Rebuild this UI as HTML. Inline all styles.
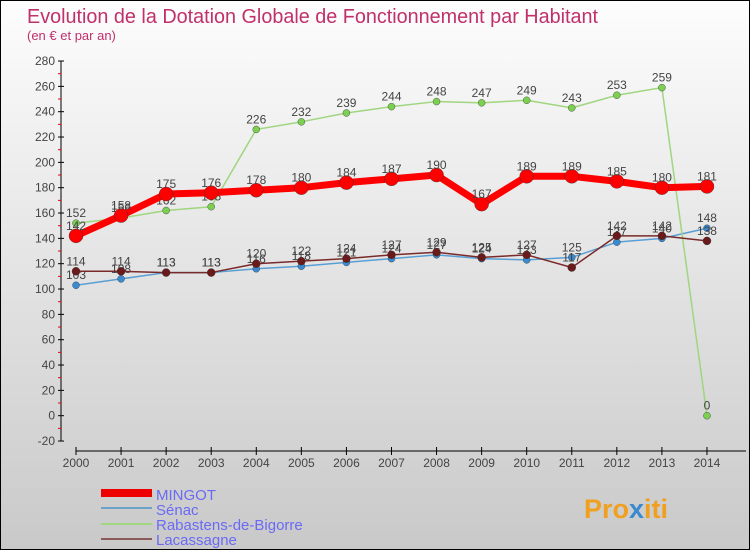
<!DOCTYPE html><html><head><meta charset="utf-8"><style>
body{margin:0}
#c{width:750px;height:550px;position:relative;box-sizing:border-box;border:1px solid #000;background:linear-gradient(#fdfdfd,#c9c9c9);font-family:"Liberation Sans",sans-serif;overflow:hidden}
</style></head><body>
<div id="c">
<svg id="s" width="750" height="550" style="position:absolute;left:0;top:0" font-family="Liberation Sans, sans-serif">
<text x="26" y="22" font-size="20" fill="#c0306a" textLength="571" lengthAdjust="spacingAndGlyphs" style="font-weight:300">Evolution de la Dotation Globale de Fonctionnement par Habitant</text>
<text x="26" y="39" font-size="13" fill="#c0306a">(en € et par an)</text>
<g id="axes"></g><g id="series"></g>
<g>
<rect x="100" y="488" width="51" height="8" fill="#e00"/>
<text x="155" y="499" font-size="15" fill="#6a6af5">MINGOT</text>
<rect x="100" y="506" width="51" height="2" fill="#6ba3c8"/>
<text x="155" y="514" font-size="15" fill="#6a6af5">Sénac</text>
<rect x="100" y="522" width="51" height="2" fill="#9fd67f"/>
<text x="155" y="529" font-size="15" fill="#6a6af5">Rabastens-de-Bigorre</text>
<rect x="100" y="537" width="51" height="2" fill="#8b5a5a"/>
<text x="155" y="544" font-size="15" fill="#6a6af5">Lacassagne</text>
</g>
<text x="583" y="517" font-size="27" font-weight="bold" fill="#f0a020">Pro<tspan fill="#3a8ad0">x</tspan>iti</text>
</svg>
</div>
<script>
const years=[2000,2001,2002,2003,2004,2005,2006,2007,2008,2009,2010,2011,2012,2013,2014];
const yTicks=[-20,0,20,40,60,80,100,120,140,160,180,200,220,240,260,280];
const mingot=[142,158,175,176,178,180,184,187,190,167,189,189,185,180,181];
const senac=[103,108,113,113,116,118,121,124,127,124,123,125,137,140,148];
const rabastens=[152,156,162,165,226,232,239,244,248,247,249,243,253,259,0];
const lacassagne=[114,114,113,113,120,122,124,127,129,125,127,117,142,142,138];
const NS="http://www.w3.org/2000/svg";
const X=i=>75+i*45.07, Y=v=>414.7-v*1.2667;
function mk(tag,at,parent){const e=document.createElementNS(NS,tag);for(const k in at)e.setAttribute(k,at[k]);parent.appendChild(e);return e;}
const ax=document.getElementById('axes'), sg=document.getElementById('series');
const yl=mk('line',{x1:60,y1:Y(280),x2:60,y2:Y(-20),stroke:'#000'},ax);


yTicks.forEach((t,k)=>{
 mk('line',{x1:57,x2:63,y1:Y(t),y2:Y(t),stroke:'#000'},ax);
 if(k<yTicks.length-1) mk('line',{x1:57,x2:60,y1:Y(t+10),y2:Y(t+10),stroke:'#e00'},ax);
 const tx=mk('text',{x:54,y:Y(t)+4,'font-size':12,fill:'#444','text-anchor':'end'},ax);
 tx.textContent=t;
 
 
});
const xl=mk('line',{x1:75,y1:450,x2:745,y2:450,stroke:'#000'},ax);


years.forEach((y,i)=>{
 mk('line',{x1:X(i),x2:X(i),y1:446,y2:454,stroke:'#000'},ax);
 const tx=mk('text',{x:X(i),y:466,'font-size':12,fill:'#444','text-anchor':'middle'},ax);
 tx.textContent=y;
 
 
});
function series(vals,color,w,r,name,dot){
 const g=mk('g',{},sg);
 
 
 const p=mk('polyline',{points:vals.map((v,i)=>X(i)+','+Y(v)).join(' '),fill:'none',stroke:color,'stroke-width':w,'stroke-linejoin':'round'},g);
 
 
 vals.forEach((v,i)=>{
  const c=mk('circle',{cx:X(i),cy:Y(v),r:r,fill:dot,stroke:'#333','stroke-width':0.4},g);
  
  
  const t=mk('text',{x:X(i),y:Y(v)-6,'font-size':12,fill:'#444','text-anchor':'middle'},g);
  t.textContent=v;
  
  
 });
}
series(senac,'#5a9fd4',1.5,3.5,'senac','#3a8ad0');
series(rabastens,'#9fd67f',1.5,3.5,'rabastens','#7cd050');
series(lacassagne,'#7a2a2a',1.5,4,'lacassagne','#6a1a1a');
series(mingot,'#f00',7,7,'mingot','#f00');
</script>
</body></html>
